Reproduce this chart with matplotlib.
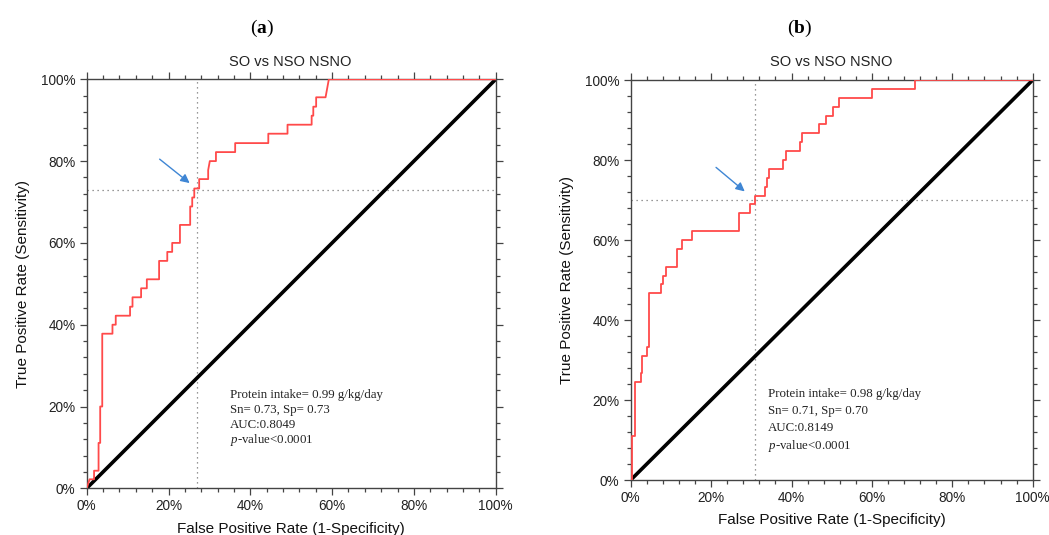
import numpy as np
import matplotlib
matplotlib.use('Agg')
import matplotlib.pyplot as plt
from matplotlib.ticker import MultipleLocator, PercentFormatter

plt.rcParams['font.family'] = ['Liberation Sans', 'DejaVu Sans']
plt.rcParams['mathtext.fontset'] = 'custom'
plt.rcParams['mathtext.it'] = 'Liberation Serif:italic'
plt.rcParams['mathtext.rm'] = 'Liberation Serif'
plt.rcParams['mathtext.bf'] = 'Liberation Serif:bold'

# ROC vertices (percent)
fpr_a = [0, 0.7, 1.8, 1.8, 2.9, 2.9, 3.3, 3.3, 3.8, 3.8, 6.3, 6.3, 7.1, 7.1, 10.6, 10.6,
         11.2, 11.2, 13.3, 13.3, 14.7, 14.7, 17.7, 17.7, 19.7, 19.7, 20.9, 20.9, 22.8, 22.8,
         25.3, 25.3, 25.8, 25.8, 26.3, 26.3, 27.5, 27.5, 29.7, 29.7, 30.1, 31.6, 31.6, 36.3,
         36.3, 44.4, 44.4, 49.1, 49.1, 55.0, 55.0, 55.4, 55.4, 56.1, 56.1, 58.4, 59.2, 100]
tpr_a = [0, 2.2, 2.2, 4.3, 4.3, 11.1, 11.1, 20.0, 20.0, 37.8, 37.8, 40.0, 40.0, 42.2, 42.2, 44.4,
         44.4, 46.7, 46.7, 48.9, 48.9, 51.1, 51.1, 55.6, 55.6, 57.8, 57.8, 60.0, 60.0, 64.4,
         64.4, 68.9, 68.9, 71.1, 71.1, 73.3, 73.3, 75.6, 75.6, 77.8, 80.0, 80.0, 82.2, 82.2,
         84.4, 84.4, 86.7, 86.7, 88.9, 88.9, 91.1, 91.1, 93.3, 93.3, 95.6, 95.6, 100, 100]

fpr_b = [0, 0.4, 0.4, 1.1, 1.1, 2.5, 2.5, 2.9, 2.9, 4.0, 4.0, 4.6, 4.6, 7.5, 7.5, 8.0, 8.0,
         8.7, 8.7, 11.6, 11.6, 12.8, 12.8, 15.2, 15.2, 27.0, 27.0, 29.7, 29.7, 30.9, 30.9,
         33.4, 33.4, 33.8, 33.8, 34.5, 34.5, 38.0, 38.0, 38.6, 38.6, 42.1, 42.1, 42.5, 42.5,
         46.8, 46.8, 48.6, 48.6, 50.2, 50.2, 51.9, 51.9, 60.0, 60.0, 70.7, 70.7, 100]
tpr_b = [0, 0, 11.1, 11.1, 24.4, 24.4, 26.7, 26.7, 31.1, 31.1, 33.3, 33.3, 46.7, 46.7, 48.9, 48.9,
         51.1, 51.1, 53.3, 53.3, 57.8, 57.8, 60.0, 60.0, 62.2, 62.2, 66.7, 66.7, 68.9, 68.9,
         71.1, 71.1, 73.3, 73.3, 75.6, 75.6, 77.8, 77.8, 80.0, 80.0, 82.2, 82.2, 84.4, 84.4,
         86.7, 86.7, 88.9, 88.9, 91.1, 91.1, 93.3, 93.3, 95.6, 95.6, 97.8, 97.8, 100, 100]

# cut-off points (fpr, tpr)
cut_a = (27, 73)
cut_b = (31, 70)

panel_labels = [r'(${\bf a}$)', r'(${\bf b}$)']
title = 'SO vs NSO NSNO'
stats_a = ['Protein intake= 0.99 g/kg/day', 'Sn= 0.73, Sp= 0.73', 'AUC:0.8049', '$p$-value<0.0001']
stats_b = ['Protein intake= 0.98 g/kg/day', 'Sn= 0.71, Sp= 0.70', 'AUC:0.8149', '$p$-value<0.0001']

fig = plt.figure(figsize=(10.49, 5.35), dpi=100)
W, H = 1049, 535

# pixel boxes of the two plot areas: left, right, top, bottom
boxes = [(86.7, 495.7, 79.3, 488.3), (630.7, 1032.7, 80, 480)]
curves = [(fpr_a, tpr_a), (fpr_b, tpr_b)]
cuts = [cut_a, cut_b]
stats = [stats_a, stats_b]
arrows = [((17.3, 80.9), (25.7, 74.2)), ((20.7, 78.6), (28.9, 71.7))]
text_pos = [(35, 22.8, 3.7), (34.2, 21.5, 4.3)]
label_x = [262, 800]
title_x = [290, 831]

for i in range(2):
    l, r, t, b = boxes[i]
    ax = fig.add_axes([l / W, 1 - b / H, (r - l) / W, (b - t) / H])
    fx, ty = curves[i]
    ax.plot([0, 100], [0, 100], color='black', lw=2.6, zorder=2, solid_capstyle='butt')
    ax.plot(fx, ty, color='#ff4a4a', lw=1.3, zorder=3)
    cx, cy = cuts[i]
    ax.axvline(cx, color='#777777', lw=0.9, ls=(0, (1, 3)), zorder=1)
    ax.axhline(cy, color='#777777', lw=0.9, ls=(0, (1, 3)), zorder=1)
    (sx, sy), (ex, ey) = arrows[i]
    ax.annotate('', xy=(ex, ey), xytext=(sx, sy),
                arrowprops=dict(arrowstyle='-|>', color='#3f86d4', lw=1.0, mutation_scale=13))
    tx, ty0, dy = text_pos[i]
    for k, s in enumerate(stats[i]):
        ax.text(tx, ty0 - k * dy, s, fontsize=9.3, family='Liberation Serif',
                color='#222222', va='center', ha='left')

    ax.set_xlim(0, 100)
    ax.set_ylim(0, 100)
    ax.xaxis.set_major_locator(MultipleLocator(20))
    ax.xaxis.set_minor_locator(MultipleLocator(4))
    ax.yaxis.set_major_locator(MultipleLocator(20))
    ax.yaxis.set_minor_locator(MultipleLocator(4))
    ax.xaxis.set_major_formatter(PercentFormatter(decimals=0))
    ax.yaxis.set_major_formatter(PercentFormatter(decimals=0))
    ax.tick_params(which='both', direction='out', top=True, right=True,
                   color='#444444', labelsize=9.8, labelcolor='#222222', width=0.9)
    ax.tick_params(which='major', length=5, pad=3)
    ax.tick_params(which='minor', length=3)
    for sp in ax.spines.values():
        sp.set_color('#444444')
        sp.set_linewidth(1.0)
    ax.set_xlabel('False Positive Rate (1-Specificity)', fontsize=11, color='#111111', labelpad=6)
    ax.set_ylabel('True Positive Rate (Sensitivity)', fontsize=11, color='#111111', labelpad=8)

    fig.text(title_x[i] / W, 1 - 62 / H, title, fontsize=10.5, ha='center', va='center', color='#222222')
    fig.text(label_x[i] / W, 1 - 28 / H, panel_labels[i], fontsize=14, ha='center', va='center',
             family='Liberation Serif')

fig.savefig('out.png', dpi=100)
